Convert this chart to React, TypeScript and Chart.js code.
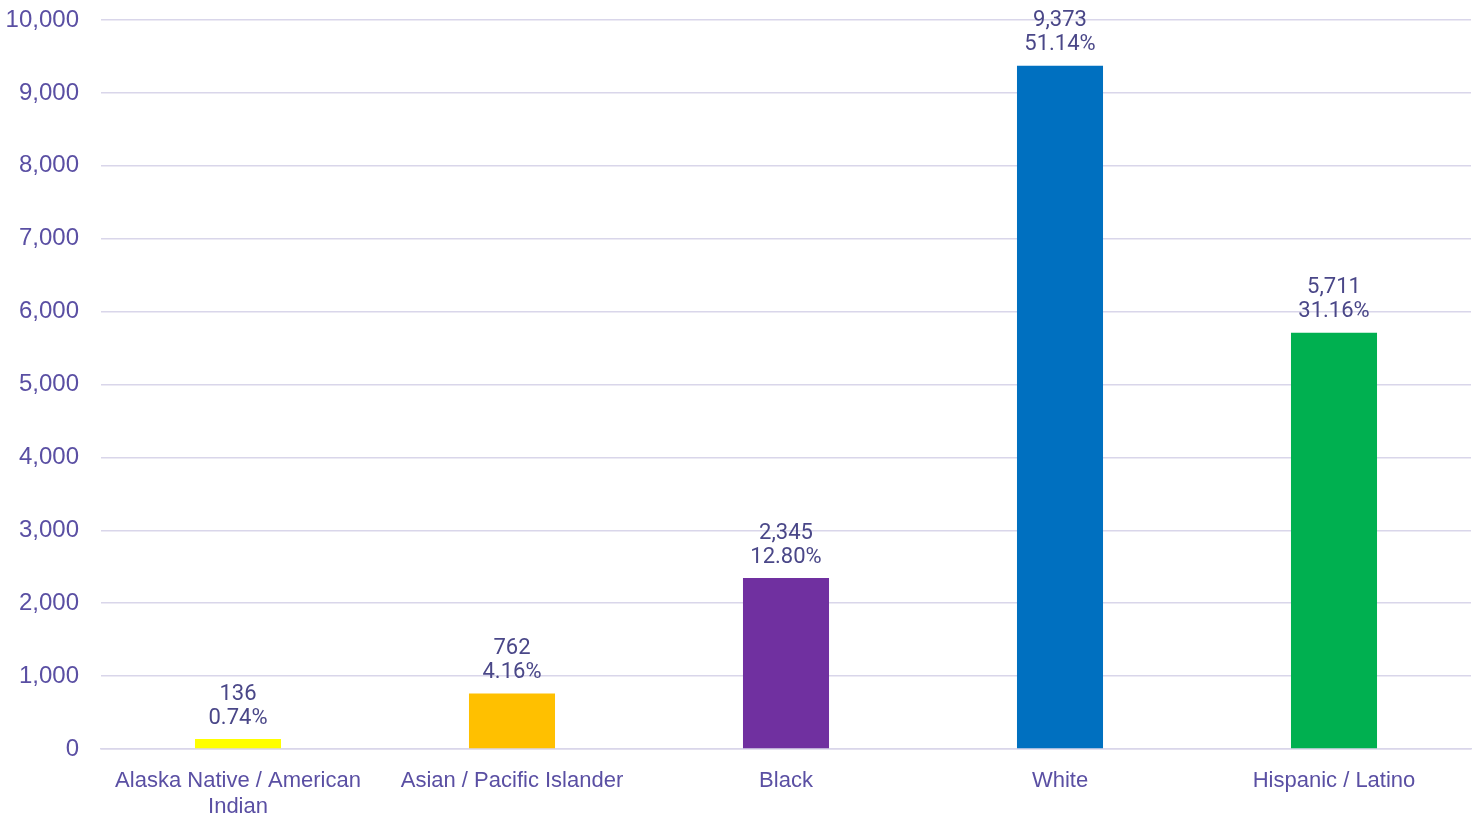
import React, { useEffect, useRef } from "react";
import { Chart, registerables } from "chart.js";

Chart.register(...registerables);

const categories: (string | string[])[] = [
  ["Alaska Native / American", "Indian"],
  "Asian / Pacific Islander",
  "Black",
  "White",
  "Hispanic / Latino",
];
const counts = [136, 762, 2345, 9373, 5711];
const percents = ["0.74%", "4.16%", "12.80%", "51.14%", "31.16%"];
const barColors = ["#FFFF00", "#FFC000", "#7030A0", "#0070C0", "#00B050"];

const AXIS_COLOR = "#5A4FA3";
const LABEL_COLOR = "#4A4788";
const GRID_COLOR = "#D9D6EA";

const labelPlugin = {
  id: "barLabels",
  afterDatasetsDraw(chart: any) {
    const ctx = chart.ctx;
    const meta = chart.getDatasetMeta(0);
    ctx.save();
    ctx.fillStyle = LABEL_COLOR;
    ctx.textAlign = "center";
    ctx.textBaseline = "middle";
    ctx.font = "22px Roboto";
    meta.data.forEach((bar: any, i: number) => {
      const v = counts[i].toLocaleString("en-US");
      ctx.fillText(v, bar.x, bar.y - 45);
      ctx.fillText(percents[i], bar.x, bar.y - 21);
    });
    ctx.restore();
  },
};

export default function App() {
  const ref = useRef<HTMLCanvasElement>(null);
  useEffect(() => {
    if (!ref.current) return;
    const chart = new Chart(ref.current, {
      type: "bar",
      data: {
        labels: categories,
        datasets: [
          {
            data: counts,
            backgroundColor: barColors,
            barPercentage: 0.314,
            categoryPercentage: 1,
          },
        ],
      },
      options: {
        animation: false,
        responsive: false,
        maintainAspectRatio: false,
        layout: { padding: { top: 0, right: 8, left: 0, bottom: 0 } },
        plugins: {
          legend: { display: false },
          tooltip: { enabled: false },
        },
        scales: {
          x: {
            grid: { display: false, drawTicks: false },
            border: { color: GRID_COLOR, width: 1.5 },
            ticks: {
              color: AXIS_COLOR,
              font: { family: "Liberation Sans", size: 22, lineHeight: 1.18 },
              padding: 19,
              maxRotation: 0,
              autoSkip: false,
            },
            afterFit: (scale: any) => {
              scale.height = 72;
            },
          },
          y: {
            min: 0,
            max: 10000,
            grid: { color: GRID_COLOR, lineWidth: 1.5, drawTicks: false },
            border: { display: false },
            ticks: {
              stepSize: 1000,
              color: AXIS_COLOR,
              font: { family: "Liberation Sans", size: 24 },
              padding: 22,
              callback: (v: any) => Number(v).toLocaleString("en-US"),
            },
            afterFit: (scale: any) => {
              scale.width = 101;
              scale.paddingTop = 20;
              scale.paddingBottom = 0;
            },
          },
        },
      },
      plugins: [labelPlugin],
    });
    return () => chart.destroy();
  }, []);
  return (
    <div style={{ position: "fixed", left: 0, top: 0, width: 1479, height: 821, background: "#fff" }}>
      <canvas ref={ref} width={1479} height={821} />
    </div>
  );
}
